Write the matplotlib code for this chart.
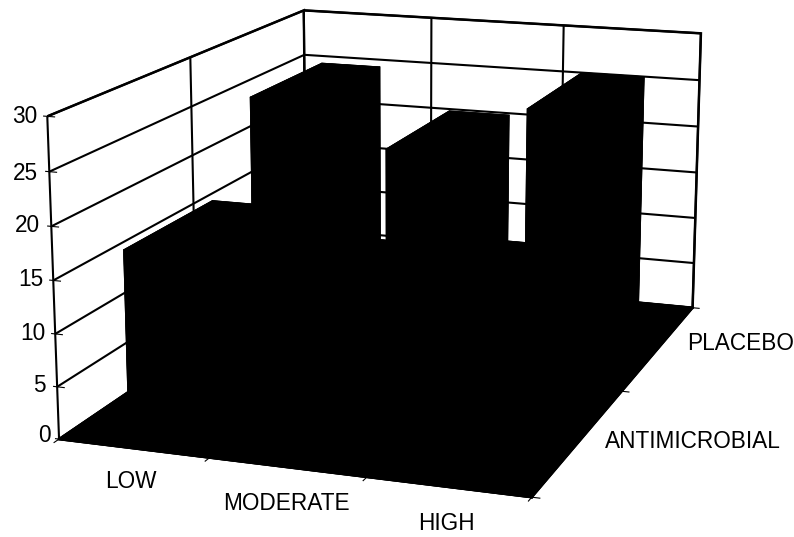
import numpy as np
import matplotlib
matplotlib.use('Agg')
import matplotlib.pyplot as plt

plt.rcParams['font.family'] = ['Liberation Sans', 'DejaVu Sans']

doses = ['LOW', 'MODERATE', 'HIGH']
groups = ['ANTIMICROBIAL', 'PLACEBO']
antimicrobial = [15.5, 13, 14]
placebo = [24.2, 19.8, 25]
zticks = [0, 5, 10, 15, 20, 25, 30]

W, H = 794, 537
fig = plt.figure(figsize=(W / 100, H / 100), dpi=100, facecolor='white')
side, left, bottom = 807.4, -11.8, -99.4
ax = fig.add_axes([left / W, bottom / H, side / W, side / H], projection='3d', facecolor='none')
ax.set_proj_type('persp', focal_length=0.56)
ax.view_init(elev=14.219, azim=-70.586)
ax.set_box_aspect((1, 1.364, 0.669), zoom=1)

x0, bw = 0.14, 0.46
y0, bd = 0.33, 0.67
for yi, vals in enumerate([antimicrobial, placebo]):
    for xi, v in enumerate(vals):
        ax.bar3d(xi + x0, yi + y0, 0, bw, bd, v,
                 color='black', shade=False, edgecolor='black', linewidth=0.5)

ax.set_xlim(0, 3)
ax.set_ylim(0, 2)
ax.set_zlim(0, 30)
ax.set_xticks(range(4))
ax.set_yticks(range(3))
ax.set_zticks(zticks)
ax.set_xticklabels([])
ax.set_yticklabels([])
ax.set_zticklabels([])
ax.zaxis._axinfo['juggled'] = (1, 0, 2)

for axis in (ax.xaxis, ax.yaxis):
    axis.set_pane_color((1, 1, 1, 1))
    axis.pane.set_edgecolor('black')
    axis.pane.set_linewidth(1.8)
ax.zaxis.set_pane_color((0, 0, 0, 1))
ax.zaxis.pane.set_edgecolor('black')
for axis in (ax.xaxis, ax.yaxis, ax.zaxis):
    axis._axinfo['grid'].update(color='black', linewidth=1.5, linestyle='-')
    axis.line.set_color('black')
    axis.line.set_linewidth(1.8)
ax.grid(True)

ztick_pos = [(51, 436), (46, 386), (46, 333), (43, 279), (40, 226), (38, 174), (37, 117)]
for z, (px, py) in zip(zticks, ztick_pos):
    fig.text(px / W, 1 - py / H, str(z), fontsize=16.3, ha='right', va='center', color='black')

dose_pos = [(131, 482), (286, 503), (446, 524)]
group_pos = [(605, 441), (687, 344)]
for lab, (px, py) in zip(doses, dose_pos):
    fig.text(px / W, 1 - py / H, lab, fontsize=16.3, ha='center', va='center', color='black')
for lab, (px, py) in zip(groups, group_pos):
    fig.text(px / W, 1 - py / H, lab, fontsize=16.3, ha='left', va='center', color='black')

fig.savefig('out.png', dpi=100)
